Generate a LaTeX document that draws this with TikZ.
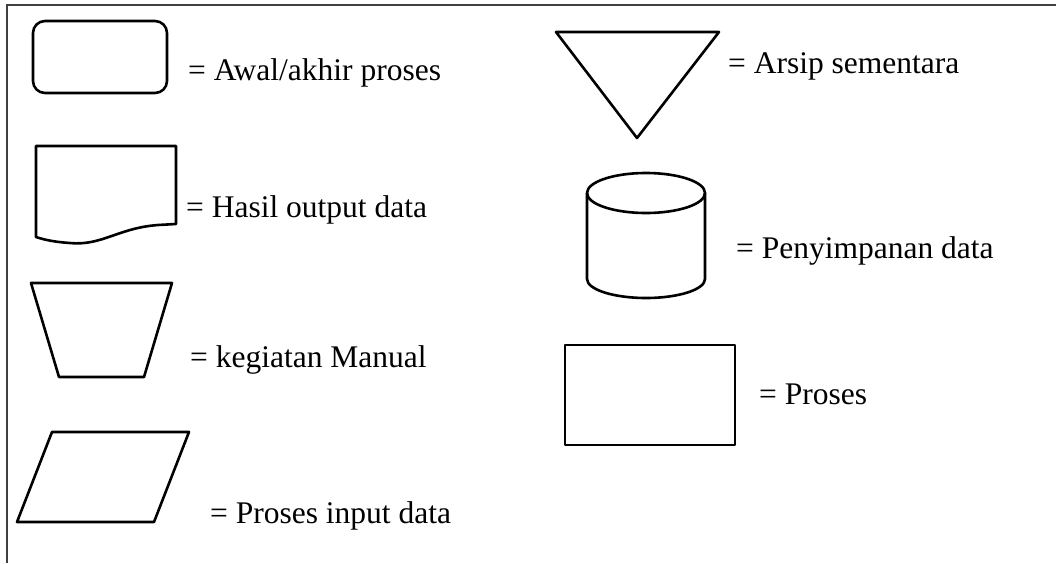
\documentclass[tikz,border=0pt]{standalone}
\usepackage{fontspec}
\setmainfont{Liberation Serif}

\tikzset{
  sym/.style={
    draw,
    line width=2.6pt,
    line join=round
  },
  lbl/.style={
    anchor=base west,
    inner sep=0pt,
    font=\fontsize{31.5}{38}\selectfont
  },
}

\begin{document}
\begin{tikzpicture}[x=1pt, y=-1pt]
  \useasboundingbox (0,0) rectangle (1056,563);
  % frame
  \draw[line width=1.5pt, black!75] (7,563) -- (7,5) -- (1056,5);
  % left column
  \draw[sym, rounded corners=12pt] (33,21) rectangle (167,93);
  \node[lbl] (awal) at (188,80) {= Awal/akhir proses};
  \draw[sym] (36,237) -- (36,146) -- (176,146) -- (176,224) -- (158,225)
    .. controls (118,228) and (102,246) .. (70,243)
    .. controls (55,242) and (45,240) .. (36,237) -- cycle;
  \node[lbl] (hasil) at (186,217) {= Hasil output data};
  \draw[sym] (31,283) -- (172,283) -- (144,377) -- (59,377) -- cycle;
  \node[lbl] (manual) at (190,367) {= kegiatan Manual};
  \draw[sym] (52,432) -- (189,432) -- (154,522) -- (17,522) -- cycle;
  \node[lbl] (input) at (210,523) {= Proses input data};
  % right column
  \draw[sym] (556,32) -- (719,32) -- (637,138) -- cycle;
  \node[lbl] (arsip) at (728,73) {= Arsip sementara};
  \draw[sym] (587,193) -- (587,279) arc[start angle=180, end angle=360, x radius=59, y radius=-19] -- (705,193);
  \draw[sym] (646,193) ellipse[x radius=59, y radius=20];
  \node[lbl] (simpan) at (736,258) {= Penyimpanan data};
  \draw[sym] (565,345) rectangle (735,445);
  \node[lbl] (proses) at (759,404) {= Proses};
\end{tikzpicture}
\end{document}
